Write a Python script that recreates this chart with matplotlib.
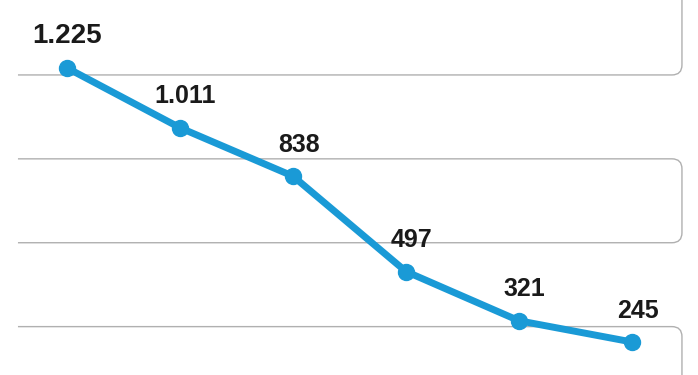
import matplotlib.pyplot as plt
from matplotlib.path import Path
from matplotlib.patches import PathPatch

# values
labels = ['1.225', '1.011', '838', '497', '321', '245']
values = [1225, 1011, 838, 497, 321, 245]
band_edges = [(1200, 1600), (600, 900), (-100, 300)]

line_col = '#1a9ad6'
grid_col = '#b0b0b0'

fig = plt.figure(figsize=(6.98, 3.75), dpi=100)
ax = fig.add_axes([0, 0, 1, 1])
ax.set_xlim(-0.593, 5.584)
ax.set_ylim(127, 1468)
ax.axis('off')

x = list(range(len(values)))

###rounded boxes, open on the left side
x0, x1 = -0.434, 5.442
rx = 10 / 113.0     # corner radius in x units (about 10 px)
ry = 10 / 0.2796    # same radius in y units
for lo, hi in band_edges:
    verts = [(x0, hi), (x1 - rx, hi), (x1, hi), (x1, hi - ry),
             (x1, lo + ry), (x1, lo), (x1 - rx, lo), (x0, lo)]
    codes = [Path.MOVETO, Path.LINETO, Path.CURVE3, Path.CURVE3,
             Path.LINETO, Path.CURVE3, Path.CURVE3, Path.LINETO]
    ax.add_patch(PathPatch(Path(verts, codes), facecolor='none',
                           edgecolor=grid_col, lw=1.0, zorder=1))

###the line and its labels
ax.plot(x, values, color=line_col, lw=5, marker='o', markersize=11.5,
        solid_capstyle='round', zorder=3)

for i, (v, lab) in enumerate(zip(values, labels)):
    size = 20 if i == 0 else 18
    ax.annotate(lab, (i, v), xytext=(4 if i else 0, 14), textcoords='offset points',
                ha='center', va='bottom', fontsize=size, fontweight='bold',
                family='Liberation Sans', color='#1a1a1a', zorder=4)

fig.savefig('out.png', dpi=100)
